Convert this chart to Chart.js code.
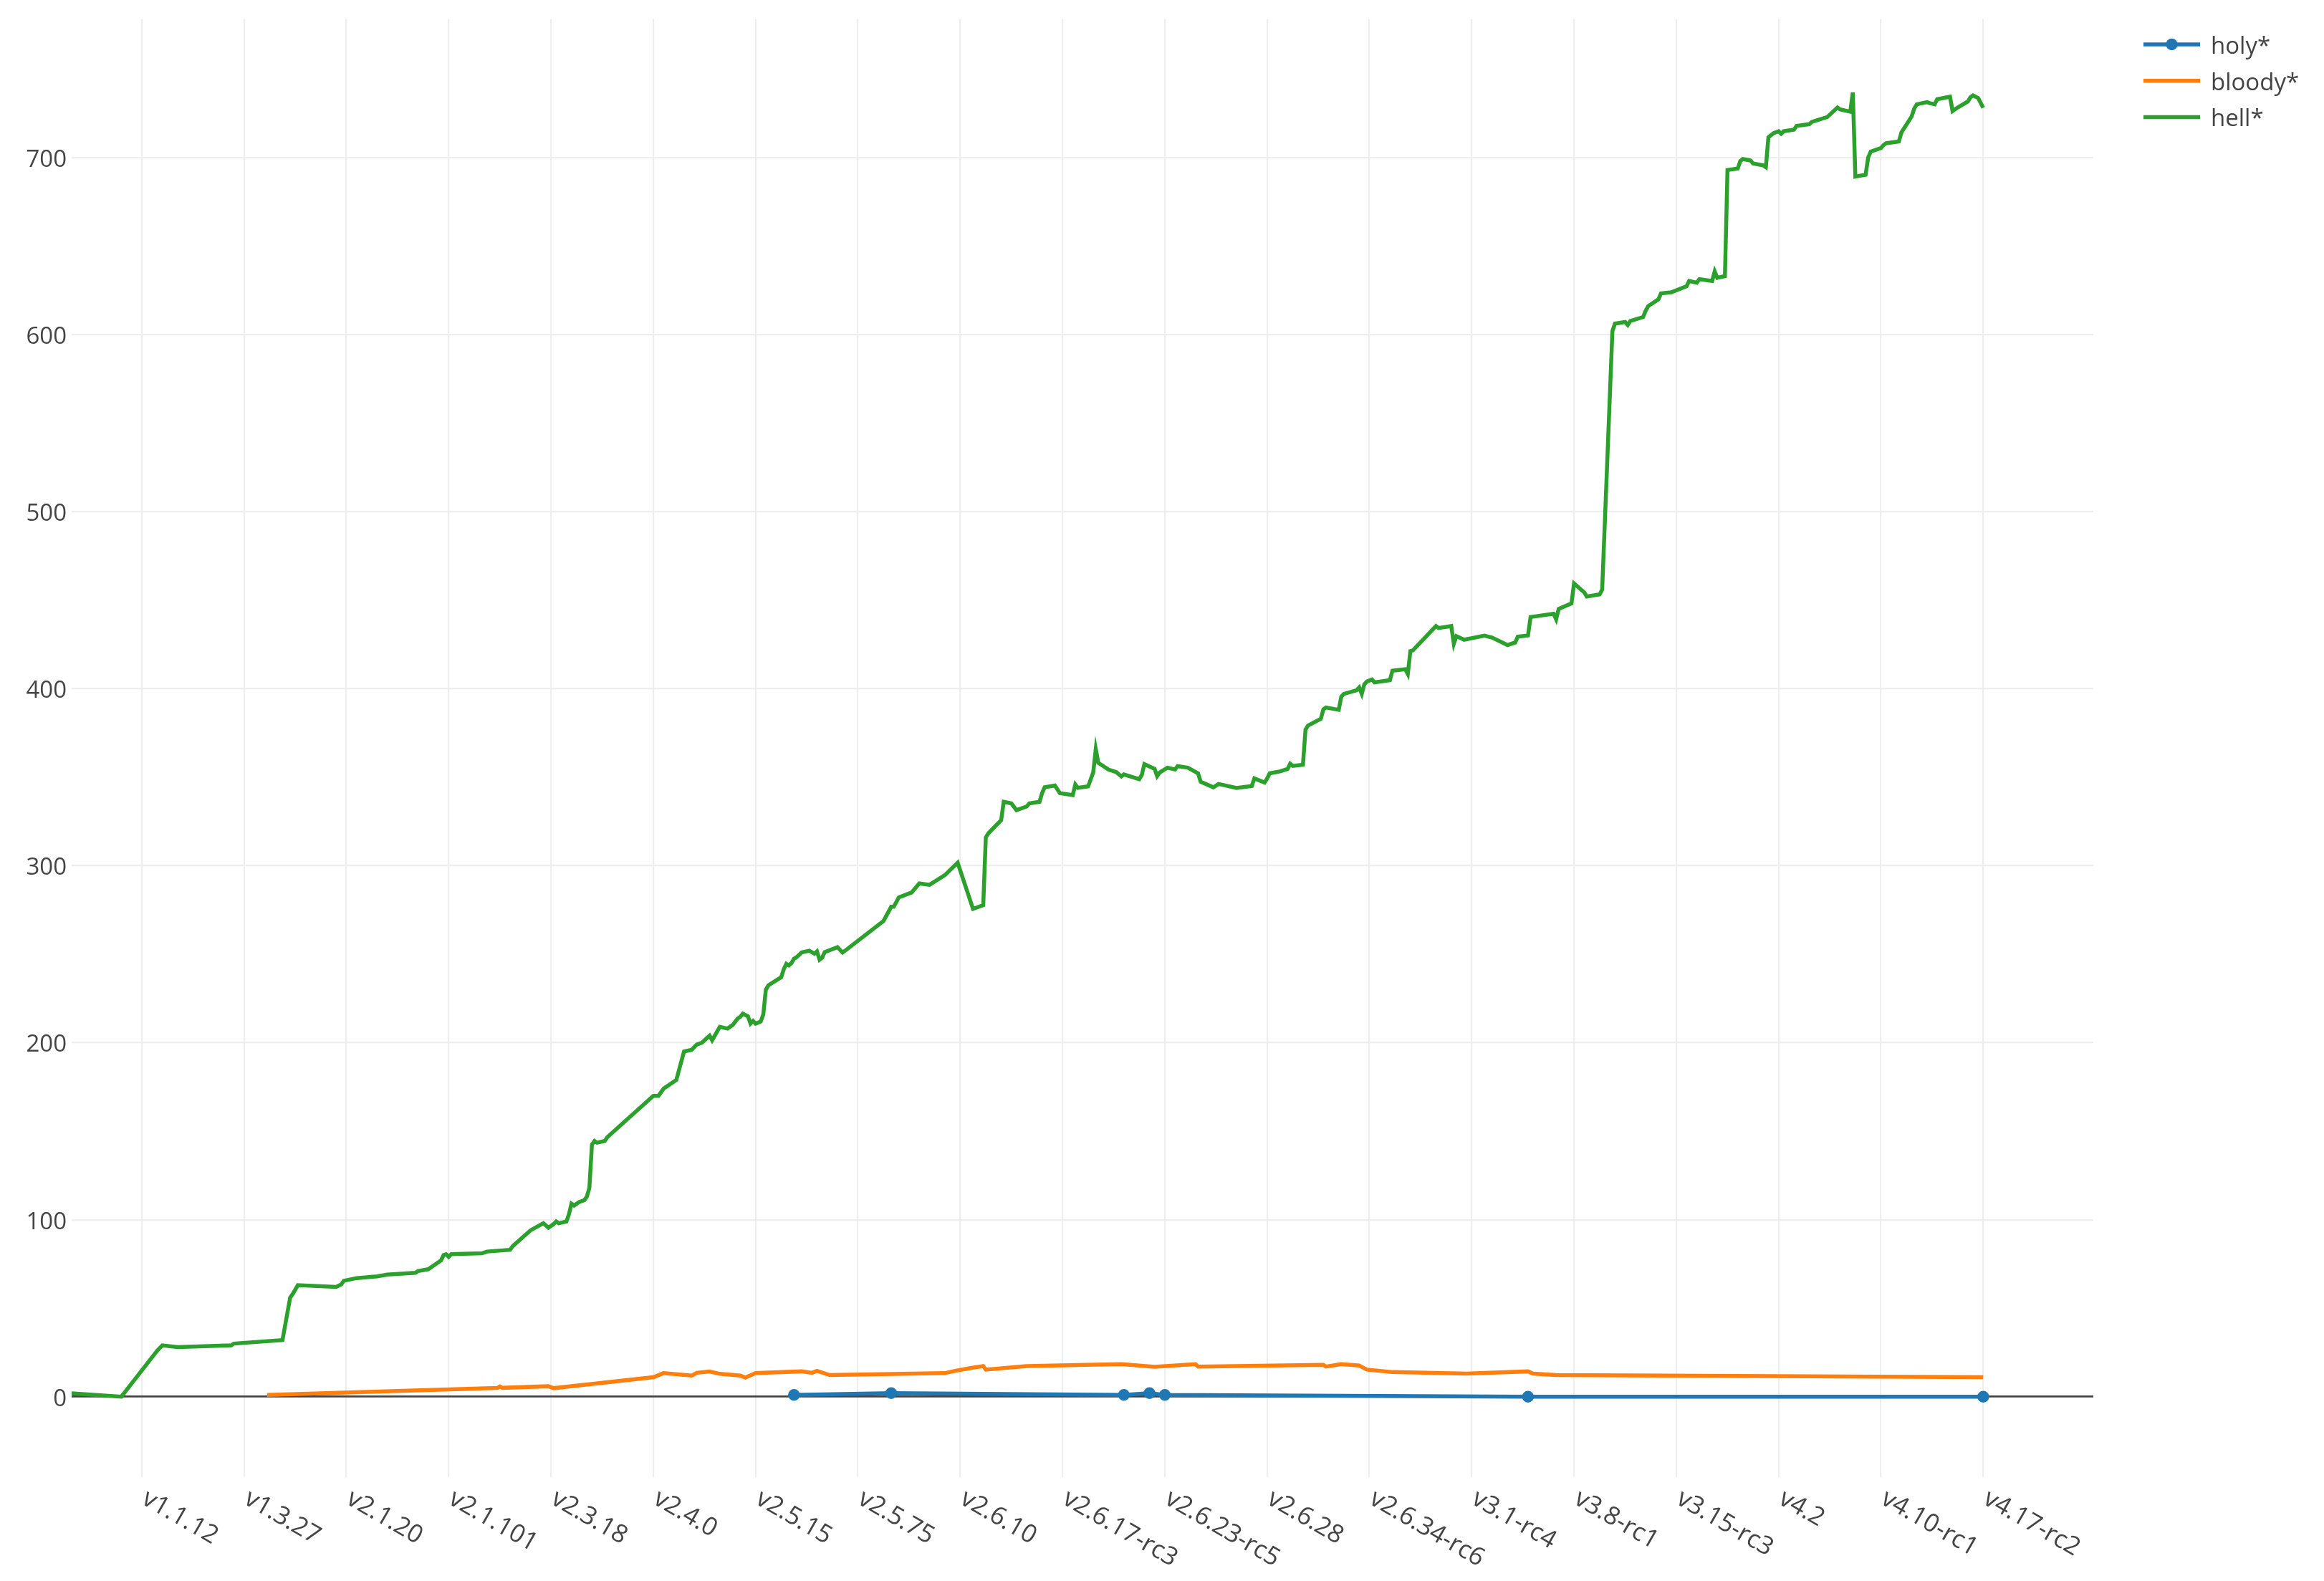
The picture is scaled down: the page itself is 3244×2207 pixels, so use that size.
<!DOCTYPE html>
<html>
<head>
<meta charset="utf-8">
<script src="https://cdn.jsdelivr.net/npm/chart.js@4.4.1/dist/chart.umd.min.js"></script>
<style>
html, body { margin: 0; padding: 0; background: #ffffff; }
canvas { display: block; }
</style>
</head>
<body>
<canvas id="chart" width="3244" height="2207"></canvas>
<script>
// ---- Data (x = position of the version tag in the tag sequence) ----
const tickLabels = ['v1.1.12','v1.3.27','v2.1.20','v2.1.101','v2.3.18','v2.4.0','v2.5.15','v2.5.75','v2.6.10','v2.6.17-rc3','v2.6.23-rc5','v2.6.28','v2.6.34-rc6','v3.1-rc4','v3.8-rc1','v3.15-rc3','v4.2','v4.10-rc1','v4.17-rc2'];
const tickIndex = [28,68,108,148,188,228,268,308,348,388,428,468,508,548,588,628,668,708,748];
const yTickValues = [0,100,200,300,400,500,600,700];

const seriesNames = ['holy*','bloody*','hell*'];

const holyIndex = [283,321,412,422,428,570,748];
const holyCount = [1,2,1,2,1,0,0];

const bloodyIndex = [77,167,168,169,187,189,228,232,243,245,250,254,262,264,268,286,290,292,297,342,346,352,357,358,374,411,424,440,441,490,491,497,504,507,517,546,570,572,581,748];
const bloodyCount = [1,4.9,5.8,5,5.9,4.8,11,13.3,11.9,13.5,14.2,12.9,11.9,10.8,13.3,14.3,13.5,14.6,12.2,13.3,14.6,16.2,17.3,15.3,17.3,18.4,16.9,18.4,17,18,17,18.4,17.6,15.3,13.9,13,14.3,13,12.2,11];

const hellIndex = [
  0,20,34,36,42,63,64,83,86,87,89,104,106,107,112,120,124,135,136,140,
  145,146,147,148,149,161,163,172,173,180,185,187,189,190,191,194,195,196,197,199,
  201,202,203,204,205,206,209,210,228,230,232,237,240,243,245,247,250,251,254,257,
  259,261,262,263,265,266,267,268,270,271,272,273,278,279,280,281,282,283,284,286,
  289,291,292,293,294,295,297,300,302,303,318,321,322,324,329,332,336,342,347,353,
  357,358,359,364,365,368,370,374,375,379,380,381,385,387,392,393,394,398,400,401,
  402,406,409,411,412,418,419,420,424,425,426,429,432,433,437,441,442,447,449,456,
  462,463,467,468,469,473,476,477,478,482,483,484,489,490,491,496,497,498,503,504,
  505,506,507,509,510,516,517,522,523,524,525,534,535,540,541,542,545,553,556,562,
  565,566,570,571,580,581,582,587,588,592,593,598,599,603,604,608,609,610,615,616,
  617,621,622,626,632,633,636,637,642,643,644,647,648,652,653,654,657,658,662,663,
  664,666,668,669,670,674,675,680,681,687,691,692,696,697,698,702,703,704,708,709,
  710,715,716,720,721,722,726,727,729,730,735,736,738,742,743,744,746,748
];
const hellCount = [
  2,0,26,29,28,29,30,32,56,58,63,62,63.5,65.5,67,68,69,70,71,72,
  77,80,80.5,79,80.5,81,82,83,85,94,98,95.5,97.5,99,98,99,103,109,108,110,
  111,113,118,142.5,144.5,143.5,144.5,146.6,170,170,174,179,195,196,199,200,204,201.4,209,208,
  210,213.7,214.6,216.4,214.9,210.8,212.3,210.8,212,216,230,232.4,237,241.5,244.6,243.7,245,247.5,248.3,251,
  252,250.3,251.6,246.9,248,251.2,252.3,254,251,252,268.8,276.8,276.8,282.1,284.9,290,289.2,294.7,301.7,275.6,
  277.7,316,318.3,325.7,336.1,335.2,331.4,333.5,335.2,336.1,341,344.3,345.3,341,339.9,345.9,344,344.8,352.7,365.9,
  358.1,354.3,352.9,350.5,351.6,348.9,351.3,357.4,354.7,350.6,352.7,355.4,354.4,356.3,355.4,352.2,347.5,344.3,346.2,343.9,
  345,349.3,347,349.3,352.2,353.3,354.7,357.6,356.4,357.1,376.9,379.2,383,388.4,389.4,388.1,395.5,397.1,399.1,400.7,
  397.1,402.5,404.1,405.2,403.6,404.8,410.2,411,408.3,421.3,421.7,435.4,434.3,435.4,425.4,429.7,427.7,430,428.9,424.7,
  426.1,429.4,430.1,440.5,442.4,439.2,445.1,448.2,459.5,454.4,452.1,453.3,456,602,606.3,607.2,605.5,607.8,610,613.5,
  616.2,620,623.4,624,627.4,630.4,629.4,631.4,630.4,635.8,632.2,633.1,693.1,693.9,698.1,699.3,698.5,696.8,695.7,694.7,
  711.6,713.9,715,713.6,715,715.9,718,719,720.3,723,728.4,727.3,726,736.9,689.4,690.4,700.1,703.5,705.5,707.2,
  708.2,709.2,714.3,723.3,727.8,730.2,731.4,730.9,730.2,733.1,734.5,726.4,728.4,731.8,734.2,735.2,733.8,728.2
];

// ---- Build chart ----
const toPoints = (xs, ys) => xs.map((x, i) => ({ x: x, y: ys[i] }));
const colors = ['#1f77b4', '#ff7f0e', '#2ca02c'];
const FONT = '"Open Sans", "Liberation Sans", sans-serif';
const TEXT = '#444444';

const xLabelPlugin = {
  id: 'xLabels',
  afterDraw(chart) {
    const ctx = chart.ctx;
    const xs = chart.scales.x;
    const area = chart.chartArea;
    ctx.save();
    ctx.font = '35px ' + FONT;
    ctx.fillStyle = TEXT;
    ctx.textAlign = 'left';
    ctx.textBaseline = 'alphabetic';
    tickLabels.forEach((lab, i) => {
      const px = xs.getPixelForValue(tickIndex[i]);
      ctx.save();
      ctx.translate(px - 2, area.bottom + 36);
      ctx.rotate(30 * Math.PI / 180);
      ctx.fillText(lab, 0, 0);
      ctx.restore();
    });
    ctx.restore();
  }
};

const legendPlugin = {
  id: 'plotlyLegend',
  afterDraw(chart) {
    const ctx = chart.ctx;
    ctx.save();
    const x0 = 2992, x1 = 3071, tx = 3086;
    chart.data.datasets.forEach((ds, i) => {
      const y = 62 + 50.7 * i;
      ctx.strokeStyle = ds.borderColor;
      ctx.lineWidth = 5.5;
      ctx.beginPath();
      ctx.moveTo(x0, y);
      ctx.lineTo(x1, y);
      ctx.stroke();
      if (ds.pointRadius > 0) {
        ctx.fillStyle = ds.borderColor;
        ctx.beginPath();
        ctx.arc((x0 + x1) / 2, y, ds.pointRadius, 0, Math.PI * 2);
        ctx.fill();
      }
      ctx.fillStyle = TEXT;
      ctx.font = '33px ' + FONT;
      ctx.textAlign = 'left';
      ctx.textBaseline = 'alphabetic';
      ctx.fillText(ds.label, tx, y + 13);
    });
    ctx.restore();
  }
};

function draw() {
  new Chart(document.getElementById('chart'), {
    type: 'line',
    data: {
      datasets: [
        { label: seriesNames[0], data: toPoints(holyIndex, holyCount), borderColor: colors[0], backgroundColor: colors[0],
          borderWidth: 5.5, pointRadius: 8.25, pointBorderWidth: 0, pointHoverRadius: 8.25, tension: 0, order: 2 },
        { label: seriesNames[1], data: toPoints(bloodyIndex, bloodyCount), borderColor: colors[1], backgroundColor: colors[1],
          borderWidth: 5.5, pointRadius: 0, tension: 0, order: 1 },
        { label: seriesNames[2], data: toPoints(hellIndex, hellCount), borderColor: colors[2], backgroundColor: colors[2],
          borderWidth: 5.5, pointRadius: 0, tension: 0, order: 0 }
      ]
    },
    options: {
      responsive: false,
      animation: false,
      devicePixelRatio: 1,
      layout: { padding: { left: 0, right: 322, top: 23, bottom: 0 } },
      plugins: { legend: { display: false }, tooltip: { enabled: false } },
      scales: {
        x: {
          type: 'linear',
          min: 0.56,
          max: 791.04,
          afterBuildTicks: (s) => { s.ticks = tickIndex.map(v => ({ value: v })); },
          afterFit: (s) => { s.height = 2207 - 2062; },
          ticks: { display: false },
          grid: { color: '#eeeeee', lineWidth: 2.2, drawTicks: false },
          border: { display: false }
        },
        y: {
          type: 'linear',
          min: -45.45,
          max: 778.3,
          afterBuildTicks: (s) => { s.ticks = yTickValues.map(v => ({ value: v })); },
          afterFit: (s) => { s.width = 100; },
          ticks: {
            font: { family: FONT, size: 33 },
            color: TEXT,
            padding: 7,
            labelOffset: 3.5,
            callback: (v) => String(v)
          },
          grid: {
            color: (c) => (c.tick && c.tick.value === 0 ? '#444444' : '#eeeeee'),
            lineWidth: (c) => (c.tick && c.tick.value === 0 ? 2.7 : 2.2),
            drawTicks: false
          },
          border: { display: false }
        }
      }
    },
    plugins: [xLabelPlugin, legendPlugin]
  });
}

if (document.fonts && document.fonts.load) {
  document.fonts.load('33px "Open Sans"').then(draw, draw);
} else {
  draw();
}
</script>
</body>
</html>
